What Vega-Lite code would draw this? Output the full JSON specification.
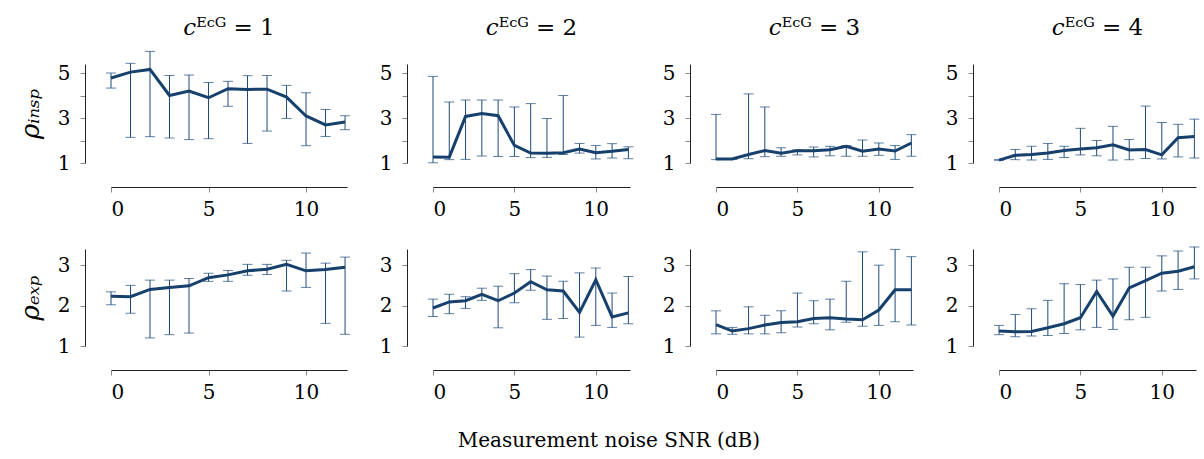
{
  "$schema": "https://vega.github.io/schema/vega-lite/v6.json",
  "padding": {"left": 17, "top": 16, "right": 2, "bottom": 4},
  "background": "white",
  "title": {"text": "Measurement noise SNR (dB)", "orient": "bottom", "anchor": "middle", "fontSize": 20, "fontWeight": "normal", "font": "DejaVu Serif", "color": "#000", "offset": 29},
  "config": {
    "font": "DejaVu Serif",
    "view": {"stroke": null},
    "axis": {"grid": false, "domain": true, "domainColor": "#222", "domainWidth": 1, "tickColor": "#888", "tickSize": 5, "labelFont": "DejaVu Serif", "labelFontSize": 20, "labelColor": "#000", "titleFont": "DejaVu Serif", "titleFontWeight": "normal", "titleColor": "#000"},
    "axisY": {"domain": true, "domainColor": "#222", "domainWidth": 1},
    "title": {"font": "DejaVu Serif", "fontSize": 23, "fontWeight": "normal", "color": "#000", "offset": 23}
  },
  "data": {"values": [
    {"r":"insp","c":1,"s":0,"m":4.78,"hi":5.0,"lo":4.33},
    {"r":"insp","c":1,"s":1,"m":5.04,"hi":5.43,"lo":2.14},
    {"r":"insp","c":1,"s":2,"m":5.16,"hi":5.96,"lo":2.17},
    {"r":"insp","c":1,"s":3,"m":4.0,"hi":4.89,"lo":2.11},
    {"r":"insp","c":1,"s":4,"m":4.2,"hi":4.91,"lo":2.04},
    {"r":"insp","c":1,"s":5,"m":3.9,"hi":4.58,"lo":2.08},
    {"r":"insp","c":1,"s":6,"m":4.3,"hi":4.63,"lo":3.52},
    {"r":"insp","c":1,"s":7,"m":4.27,"hi":4.88,"lo":1.87},
    {"r":"insp","c":1,"s":8,"m":4.28,"hi":4.89,"lo":2.42},
    {"r":"insp","c":1,"s":9,"m":3.93,"hi":4.45,"lo":2.98},
    {"r":"insp","c":1,"s":10,"m":3.09,"hi":4.12,"lo":1.77},
    {"r":"insp","c":1,"s":11,"m":2.69,"hi":3.38,"lo":2.18},
    {"r":"insp","c":1,"s":12,"m":2.82,"hi":3.1,"lo":2.48},
    {"r":"insp","c":2,"s":0,"m":1.27,"hi":4.85,"lo":1.01},
    {"r":"insp","c":2,"s":1,"m":1.26,"hi":3.71,"lo":1.15},
    {"r":"insp","c":2,"s":2,"m":3.07,"hi":3.8,"lo":1.16},
    {"r":"insp","c":2,"s":3,"m":3.2,"hi":3.8,"lo":1.31},
    {"r":"insp","c":2,"s":4,"m":3.1,"hi":3.8,"lo":1.29},
    {"r":"insp","c":2,"s":5,"m":1.78,"hi":3.49,"lo":1.29},
    {"r":"insp","c":2,"s":6,"m":1.44,"hi":3.64,"lo":1.24},
    {"r":"insp","c":2,"s":7,"m":1.43,"hi":2.98,"lo":1.25},
    {"r":"insp","c":2,"s":8,"m":1.46,"hi":4.0,"lo":1.38},
    {"r":"insp","c":2,"s":9,"m":1.62,"hi":1.87,"lo":1.44},
    {"r":"insp","c":2,"s":10,"m":1.46,"hi":1.78,"lo":1.18},
    {"r":"insp","c":2,"s":11,"m":1.52,"hi":1.86,"lo":1.22},
    {"r":"insp","c":2,"s":12,"m":1.6,"hi":1.72,"lo":1.19},
    {"r":"insp","c":3,"s":0,"m":1.18,"hi":3.16,"lo":1.15},
    {"r":"insp","c":3,"s":1,"m":1.18,"hi":1.2,"lo":1.16},
    {"r":"insp","c":3,"s":2,"m":1.38,"hi":4.07,"lo":1.19},
    {"r":"insp","c":3,"s":3,"m":1.55,"hi":3.49,"lo":1.28},
    {"r":"insp","c":3,"s":4,"m":1.43,"hi":1.68,"lo":1.3},
    {"r":"insp","c":3,"s":5,"m":1.55,"hi":1.59,"lo":1.36},
    {"r":"insp","c":3,"s":6,"m":1.55,"hi":1.71,"lo":1.27},
    {"r":"insp","c":3,"s":7,"m":1.59,"hi":1.74,"lo":1.32},
    {"r":"insp","c":3,"s":8,"m":1.74,"hi":1.78,"lo":1.3},
    {"r":"insp","c":3,"s":9,"m":1.52,"hi":2.02,"lo":1.3},
    {"r":"insp","c":3,"s":10,"m":1.62,"hi":1.89,"lo":1.34},
    {"r":"insp","c":3,"s":11,"m":1.53,"hi":1.78,"lo":1.16},
    {"r":"insp","c":3,"s":12,"m":1.89,"hi":2.26,"lo":1.3},
    {"r":"insp","c":4,"s":0,"m":1.13,"hi":1.15,"lo":1.12},
    {"r":"insp","c":4,"s":1,"m":1.34,"hi":1.6,"lo":1.15},
    {"r":"insp","c":4,"s":2,"m":1.38,"hi":1.74,"lo":1.13},
    {"r":"insp","c":4,"s":3,"m":1.44,"hi":1.87,"lo":1.16},
    {"r":"insp","c":4,"s":4,"m":1.56,"hi":1.74,"lo":1.24},
    {"r":"insp","c":4,"s":5,"m":1.62,"hi":2.54,"lo":1.36},
    {"r":"insp","c":4,"s":6,"m":1.68,"hi":2.0,"lo":1.32},
    {"r":"insp","c":4,"s":7,"m":1.81,"hi":2.63,"lo":1.13},
    {"r":"insp","c":4,"s":8,"m":1.58,"hi":2.04,"lo":1.15},
    {"r":"insp","c":4,"s":9,"m":1.6,"hi":3.53,"lo":1.2},
    {"r":"insp","c":4,"s":10,"m":1.36,"hi":2.8,"lo":1.18},
    {"r":"insp","c":4,"s":11,"m":2.12,"hi":2.72,"lo":1.27},
    {"r":"insp","c":4,"s":12,"m":2.18,"hi":2.95,"lo":1.22},
    {"r":"exp","c":1,"s":0,"m":2.23,"hi":2.34,"lo":2.02},
    {"r":"exp","c":1,"s":1,"m":2.22,"hi":2.5,"lo":1.81},
    {"r":"exp","c":1,"s":2,"m":2.4,"hi":2.63,"lo":1.2},
    {"r":"exp","c":1,"s":3,"m":2.45,"hi":2.63,"lo":1.28},
    {"r":"exp","c":1,"s":4,"m":2.49,"hi":2.67,"lo":1.32},
    {"r":"exp","c":1,"s":5,"m":2.69,"hi":2.8,"lo":2.6},
    {"r":"exp","c":1,"s":6,"m":2.76,"hi":2.87,"lo":2.6},
    {"r":"exp","c":1,"s":7,"m":2.86,"hi":3.02,"lo":2.75},
    {"r":"exp","c":1,"s":8,"m":2.9,"hi":3.02,"lo":2.77},
    {"r":"exp","c":1,"s":9,"m":3.02,"hi":3.12,"lo":2.36},
    {"r":"exp","c":1,"s":10,"m":2.86,"hi":3.3,"lo":2.45},
    {"r":"exp","c":1,"s":11,"m":2.89,"hi":3.05,"lo":1.56},
    {"r":"exp","c":1,"s":12,"m":2.95,"hi":3.2,"lo":1.29},
    {"r":"exp","c":2,"s":0,"m":1.94,"hi":2.16,"lo":1.73},
    {"r":"exp","c":2,"s":1,"m":2.09,"hi":2.28,"lo":1.8},
    {"r":"exp","c":2,"s":2,"m":2.12,"hi":2.22,"lo":1.93},
    {"r":"exp","c":2,"s":3,"m":2.28,"hi":2.43,"lo":2.13},
    {"r":"exp","c":2,"s":4,"m":2.12,"hi":2.48,"lo":1.45},
    {"r":"exp","c":2,"s":5,"m":2.31,"hi":2.79,"lo":2.07},
    {"r":"exp","c":2,"s":6,"m":2.59,"hi":2.89,"lo":2.38},
    {"r":"exp","c":2,"s":7,"m":2.39,"hi":2.73,"lo":1.66},
    {"r":"exp","c":2,"s":8,"m":2.36,"hi":2.6,"lo":1.68},
    {"r":"exp","c":2,"s":9,"m":1.83,"hi":2.81,"lo":1.22},
    {"r":"exp","c":2,"s":10,"m":2.64,"hi":2.93,"lo":1.51},
    {"r":"exp","c":2,"s":11,"m":1.72,"hi":2.31,"lo":1.46},
    {"r":"exp","c":2,"s":12,"m":1.82,"hi":2.72,"lo":1.55},
    {"r":"exp","c":3,"s":0,"m":1.53,"hi":1.87,"lo":1.3},
    {"r":"exp","c":3,"s":1,"m":1.37,"hi":1.46,"lo":1.29},
    {"r":"exp","c":3,"s":2,"m":1.43,"hi":1.97,"lo":1.3},
    {"r":"exp","c":3,"s":3,"m":1.52,"hi":1.76,"lo":1.3},
    {"r":"exp","c":3,"s":4,"m":1.58,"hi":1.87,"lo":1.33},
    {"r":"exp","c":3,"s":5,"m":1.6,"hi":2.31,"lo":1.47},
    {"r":"exp","c":3,"s":6,"m":1.68,"hi":2.12,"lo":1.55},
    {"r":"exp","c":3,"s":7,"m":1.7,"hi":2.16,"lo":1.4},
    {"r":"exp","c":3,"s":8,"m":1.67,"hi":2.6,"lo":1.59},
    {"r":"exp","c":3,"s":9,"m":1.65,"hi":3.33,"lo":1.49},
    {"r":"exp","c":3,"s":10,"m":1.89,"hi":3.0,"lo":1.51},
    {"r":"exp","c":3,"s":11,"m":2.39,"hi":3.39,"lo":1.6},
    {"r":"exp","c":3,"s":12,"m":2.39,"hi":3.21,"lo":1.52},
    {"r":"exp","c":4,"s":0,"m":1.37,"hi":1.51,"lo":1.28},
    {"r":"exp","c":4,"s":1,"m":1.35,"hi":1.78,"lo":1.23},
    {"r":"exp","c":4,"s":2,"m":1.36,"hi":1.92,"lo":1.25},
    {"r":"exp","c":4,"s":3,"m":1.45,"hi":2.13,"lo":1.26},
    {"r":"exp","c":4,"s":4,"m":1.55,"hi":2.54,"lo":1.31},
    {"r":"exp","c":4,"s":5,"m":1.7,"hi":2.52,"lo":1.4},
    {"r":"exp","c":4,"s":6,"m":2.35,"hi":2.63,"lo":1.46},
    {"r":"exp","c":4,"s":7,"m":1.74,"hi":2.66,"lo":1.41},
    {"r":"exp","c":4,"s":8,"m":2.44,"hi":2.95,"lo":1.65},
    {"r":"exp","c":4,"s":9,"m":2.62,"hi":2.95,"lo":1.71},
    {"r":"exp","c":4,"s":10,"m":2.8,"hi":3.23,"lo":2.36},
    {"r":"exp","c":4,"s":11,"m":2.85,"hi":3.35,"lo":2.4},
    {"r":"exp","c":4,"s":12,"m":2.96,"hi":3.45,"lo":2.66}
  ]},
  "columns": 4,
  "spacing": 86,
  "bounds": "flush",
  "align": "each",
  "concat": [
    {
      "width": 236, "height": 99,
      "title": {"text": "𝑐ᴱᶜᴳ = 1", "offset": 11},
      "transform": [{"filter": "datum.r == 'insp' && datum.c == 1"}],
      "encoding": {"x": {"field": "s", "type": "quantitative", "scale": {"domain": [0, 12.1], "nice": false, "zero": false}, "axis": {"offset": 24, "values": [0, 5, 10], "title": null, "labelPadding": 7}}},
      "layer": [
        {"mark": {"type": "errorbar", "ticks": {"size": 10, "color": "#1d4a7a"}, "rule": {"color": "#1d4a7a", "strokeWidth": 1}},
         "encoding": {"y": {"field": "lo", "type": "quantitative", "scale": {"domain": [1, 5.4], "nice": false, "zero": false}, "axis": {"domain": true, "offset": 26, "values": [1, 2, 3, 4, 5], "labelExpr": "datum.value % 2 == 1 ? datum.label : ''", "labelPadding": 10, "title": "ρᵢₙₛₚ", "titleFontSize": 26, "titleFontStyle": "italic", "titlePadding": 14}}, "y2": {"field": "hi"}}},
        {"mark": {"type": "line", "color": "#17406d", "strokeWidth": 3}, "encoding": {"y": {"field": "m", "type": "quantitative", "axis": {"domain": true, "offset": 26, "values": [1, 2, 3, 4, 5], "labelExpr": "datum.value % 2 == 1 ? datum.label : ''", "labelPadding": 10, "title": "ρᵢₙₛₚ", "titleFontSize": 26, "titleFontStyle": "italic", "titlePadding": 14}}}}
      ]
    },
    {
      "width": 197, "height": 99,
      "title": "𝑐ᴱᶜᴳ = 2",
      "transform": [{"filter": "datum.r == 'insp' && datum.c == 2"}],
      "encoding": {"x": {"field": "s", "type": "quantitative", "scale": {"domain": [0, 12.1], "nice": false, "zero": false}, "axis": {"offset": 24, "values": [0, 5, 10], "title": null, "labelPadding": 7}}},
      "layer": [
        {"mark": {"type": "errorbar", "ticks": {"size": 10, "color": "#1d4a7a"}, "rule": {"color": "#1d4a7a", "strokeWidth": 1}},
         "encoding": {"y": {"field": "lo", "type": "quantitative", "scale": {"domain": [1, 5.4], "nice": false, "zero": false}, "axis": {"domain": true, "offset": 26, "values": [1, 2, 3, 4, 5], "labelExpr": "datum.value % 2 == 1 ? datum.label : ''", "labelPadding": 10, "title": null}}, "y2": {"field": "hi"}}},
        {"mark": {"type": "line", "color": "#17406d", "strokeWidth": 3}, "encoding": {"y": {"field": "m", "type": "quantitative", "axis": {"domain": true, "offset": 26, "values": [1, 2, 3, 4, 5], "labelExpr": "datum.value % 2 == 1 ? datum.label : ''", "labelPadding": 10, "title": null}}}}
      ]
    },
    {
      "width": 197, "height": 99,
      "title": "𝑐ᴱᶜᴳ = 3",
      "transform": [{"filter": "datum.r == 'insp' && datum.c == 3"}],
      "encoding": {"x": {"field": "s", "type": "quantitative", "scale": {"domain": [0, 12.1], "nice": false, "zero": false}, "axis": {"offset": 24, "values": [0, 5, 10], "title": null, "labelPadding": 7}}},
      "layer": [
        {"mark": {"type": "errorbar", "ticks": {"size": 10, "color": "#1d4a7a"}, "rule": {"color": "#1d4a7a", "strokeWidth": 1}},
         "encoding": {"y": {"field": "lo", "type": "quantitative", "scale": {"domain": [1, 5.4], "nice": false, "zero": false}, "axis": {"domain": true, "offset": 26, "values": [1, 2, 3, 4, 5], "labelExpr": "datum.value % 2 == 1 ? datum.label : ''", "labelPadding": 10, "title": null}}, "y2": {"field": "hi"}}},
        {"mark": {"type": "line", "color": "#17406d", "strokeWidth": 3}, "encoding": {"y": {"field": "m", "type": "quantitative", "axis": {"domain": true, "offset": 26, "values": [1, 2, 3, 4, 5], "labelExpr": "datum.value % 2 == 1 ? datum.label : ''", "labelPadding": 10, "title": null}}}}
      ]
    },
    {
      "width": 197, "height": 99,
      "title": "𝑐ᴱᶜᴳ = 4",
      "transform": [{"filter": "datum.r == 'insp' && datum.c == 4"}],
      "encoding": {"x": {"field": "s", "type": "quantitative", "scale": {"domain": [0, 12.1], "nice": false, "zero": false}, "axis": {"offset": 24, "values": [0, 5, 10], "title": null, "labelPadding": 7}}},
      "layer": [
        {"mark": {"type": "errorbar", "ticks": {"size": 10, "color": "#1d4a7a"}, "rule": {"color": "#1d4a7a", "strokeWidth": 1}},
         "encoding": {"y": {"field": "lo", "type": "quantitative", "scale": {"domain": [1, 5.4], "nice": false, "zero": false}, "axis": {"domain": true, "offset": 26, "values": [1, 2, 3, 4, 5], "labelExpr": "datum.value % 2 == 1 ? datum.label : ''", "labelPadding": 10, "title": null}}, "y2": {"field": "hi"}}},
        {"mark": {"type": "line", "color": "#17406d", "strokeWidth": 3}, "encoding": {"y": {"field": "m", "type": "quantitative", "axis": {"domain": true, "offset": 26, "values": [1, 2, 3, 4, 5], "labelExpr": "datum.value % 2 == 1 ? datum.label : ''", "labelPadding": 10, "title": null}}}}
      ]
    },
    {
      "width": 236, "height": 97,
      "transform": [{"filter": "datum.r == 'exp' && datum.c == 1"}],
      "encoding": {"x": {"field": "s", "type": "quantitative", "scale": {"domain": [0, 12.1], "nice": false, "zero": false}, "axis": {"offset": 24, "values": [0, 5, 10], "title": null, "labelPadding": 7}}},
      "layer": [
        {"mark": {"type": "errorbar", "ticks": {"size": 10, "color": "#1d4a7a"}, "rule": {"color": "#1d4a7a", "strokeWidth": 1}},
         "encoding": {"y": {"field": "lo", "type": "quantitative", "scale": {"domain": [1, 3.4], "nice": false, "zero": false}, "axis": {"domain": true, "offset": 26, "values": [1, 2, 3], "labelPadding": 10, "title": "ρₑₓₚ", "titleFontSize": 26, "titleFontStyle": "italic", "titlePadding": 14}}, "y2": {"field": "hi"}}},
        {"mark": {"type": "line", "color": "#17406d", "strokeWidth": 3}, "encoding": {"y": {"field": "m", "type": "quantitative", "axis": {"domain": true, "offset": 26, "values": [1, 2, 3], "labelPadding": 10, "title": "ρₑₓₚ", "titleFontSize": 26, "titleFontStyle": "italic", "titlePadding": 14}}}}
      ]
    },
    {
      "width": 197, "height": 97,
      "transform": [{"filter": "datum.r == 'exp' && datum.c == 2"}],
      "encoding": {"x": {"field": "s", "type": "quantitative", "scale": {"domain": [0, 12.1], "nice": false, "zero": false}, "axis": {"offset": 24, "values": [0, 5, 10], "title": null, "labelPadding": 7}}},
      "layer": [
        {"mark": {"type": "errorbar", "ticks": {"size": 10, "color": "#1d4a7a"}, "rule": {"color": "#1d4a7a", "strokeWidth": 1}},
         "encoding": {"y": {"field": "lo", "type": "quantitative", "scale": {"domain": [1, 3.4], "nice": false, "zero": false}, "axis": {"domain": true, "offset": 26, "values": [1, 2, 3], "labelPadding": 10, "title": null}}, "y2": {"field": "hi"}}},
        {"mark": {"type": "line", "color": "#17406d", "strokeWidth": 3}, "encoding": {"y": {"field": "m", "type": "quantitative", "axis": {"domain": true, "offset": 26, "values": [1, 2, 3], "labelPadding": 10, "title": null}}}}
      ]
    },
    {
      "width": 197, "height": 97,
      "transform": [{"filter": "datum.r == 'exp' && datum.c == 3"}],
      "encoding": {"x": {"field": "s", "type": "quantitative", "scale": {"domain": [0, 12.1], "nice": false, "zero": false}, "axis": {"offset": 24, "values": [0, 5, 10], "title": null, "labelPadding": 7}}},
      "layer": [
        {"mark": {"type": "errorbar", "ticks": {"size": 10, "color": "#1d4a7a"}, "rule": {"color": "#1d4a7a", "strokeWidth": 1}},
         "encoding": {"y": {"field": "lo", "type": "quantitative", "scale": {"domain": [1, 3.4], "nice": false, "zero": false}, "axis": {"domain": true, "offset": 26, "values": [1, 2, 3], "labelPadding": 10, "title": null}}, "y2": {"field": "hi"}}},
        {"mark": {"type": "line", "color": "#17406d", "strokeWidth": 3}, "encoding": {"y": {"field": "m", "type": "quantitative", "axis": {"domain": true, "offset": 26, "values": [1, 2, 3], "labelPadding": 10, "title": null}}}}
      ]
    },
    {
      "width": 197, "height": 97,
      "transform": [{"filter": "datum.r == 'exp' && datum.c == 4"}],
      "encoding": {"x": {"field": "s", "type": "quantitative", "scale": {"domain": [0, 12.1], "nice": false, "zero": false}, "axis": {"offset": 24, "values": [0, 5, 10], "title": null, "labelPadding": 7}}},
      "layer": [
        {"mark": {"type": "errorbar", "ticks": {"size": 10, "color": "#1d4a7a"}, "rule": {"color": "#1d4a7a", "strokeWidth": 1}},
         "encoding": {"y": {"field": "lo", "type": "quantitative", "scale": {"domain": [1, 3.4], "nice": false, "zero": false}, "axis": {"domain": true, "offset": 26, "values": [1, 2, 3], "labelPadding": 10, "title": null}}, "y2": {"field": "hi"}}},
        {"mark": {"type": "line", "color": "#17406d", "strokeWidth": 3}, "encoding": {"y": {"field": "m", "type": "quantitative", "axis": {"domain": true, "offset": 26, "values": [1, 2, 3], "labelPadding": 10, "title": null}}}}
      ]
    }
  ]
}
